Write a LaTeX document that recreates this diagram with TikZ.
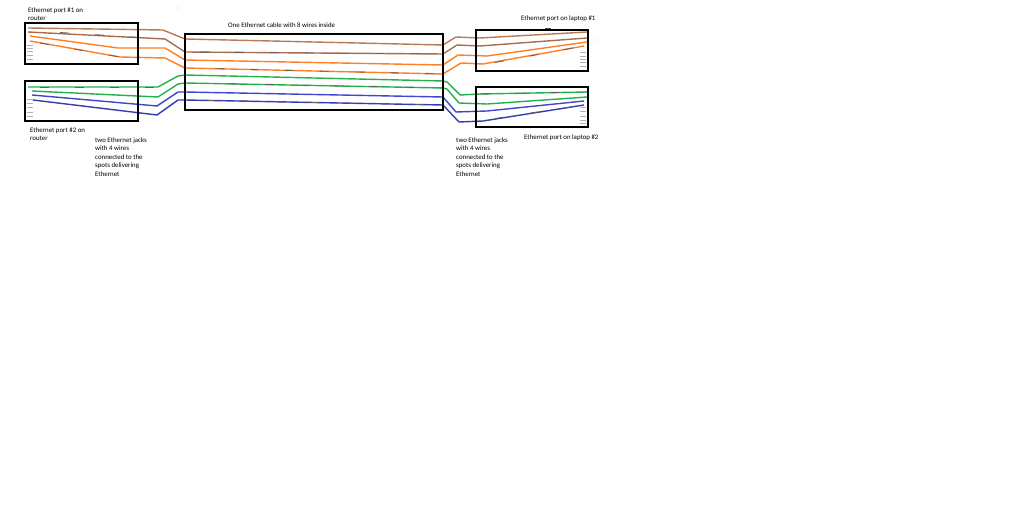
\documentclass[tikz,border=0pt]{standalone}
\usepackage{fontspec}
\setmainfont{Carlito}
\begin{document}
\begin{tikzpicture}[x=1pt,y=-1pt,
  wire/.style={line width=1.4pt, line join=round},
  portbox/.style={draw=black, line width=2.6pt},
  tick/.style={draw=gray!60, line width=0.8pt},
  graydash/.style={draw=gray!75!black, line width=0.8pt, dash pattern=on 9pt off 26pt},
  lbl/.style={anchor=north west, inner sep=0pt, align=left, font=\fontsize{6.85}{8.4}\selectfont, text=black}]
\definecolor{wbrown}{RGB}{185,122,87}
\definecolor{worange}{RGB}{255,127,39}
\definecolor{wgreen}{RGB}{34,177,76}
\definecolor{wblue}{RGB}{63,72,204}
\useasboundingbox[fill=white] (0,0) rectangle (1024,526);

% wires
\draw[wire, wbrown] (28,28) -- (163,30) -- (185,39) -- (443,45) -- (456,37) -- (480,38) -- (587,32);
\draw[wire, wbrown!90!black] (28,32) -- (165,39) -- (185,52) -- (443,54) -- (457,45) -- (480,46) -- (587,38);
\draw[wire, worange] (30,36) -- (118,48) -- (165,48) -- (185,60) -- (443,65) -- (458,55) -- (487,56) -- (587,42);
\draw[wire, worange] (30,41) -- (120,57) -- (165,58) -- (185,68) -- (443,74) -- (461,63) -- (483,64) -- (584,46);
\draw[wire, wgreen] (28,87) -- (158,87) -- (178,76) -- (185,75) -- (443,81) -- (447,82) -- (460,95) -- (480,94) -- (587,92);
\draw[wire, wgreen] (32,91) -- (158,97) -- (178,84) -- (185,83) -- (443,88) -- (447,89) -- (459,103) -- (487,104) -- (587,97);
\draw[wire, wblue] (32,95) -- (157,106) -- (178,92) -- (185,92) -- (443,97) -- (456,112) -- (487,111) -- (584,101);
\draw[wire, wblue!85!black] (33,100) -- (157,115) -- (178,100) -- (185,100) -- (443,105) -- (459,122) -- (483,121) -- (584,105);

% gray dash overlays
\draw[graydash] (200,52.1) -- (443,54);
\draw[graydash] (215,68.7) -- (443,74);
\draw[graydash] (230,83.8) -- (443,88);
\draw[graydash] (205,100.3) -- (443,105);
\draw[graydash] (60,32.5) -- (165,39);
\draw[graydash] (40,43) -- (120,57);
\draw[graydash] (40,87) -- (158,87);
\draw[graydash] (495,62.5) -- (584,46);
\draw[graydash] (495,118.5) -- (584,105);
\draw[graydash] (480,94) -- (587,92);

% pin ticks
\foreach \yy in {45,48.3,51.7,55,59} \draw[tick] (27,\yy) -- (33,\yy);
\foreach \yy in {99,103,107,112,116} \draw[tick] (27,\yy) -- (33,\yy);
\foreach \yy in {52,56,59,62,66} \draw[tick] (580,\yy) -- (586,\yy);
\foreach \yy in {107,111,116,120,123} \draw[tick] (580,\yy) -- (586,\yy);

% boxes
\draw[portbox] (25,23) rectangle (138,64);
\draw[portbox] (25,81) rectangle (138,121);
\draw[portbox] (185,34) rectangle (443,110);
\draw[portbox] (476,30) rectangle (588,71);
\draw[portbox] (476,87) rectangle (588,127);

% small marks
\fill[gray!60] (178,8) circle (0.6pt);
\fill[gray!60] (595,40) circle (0.6pt);
\draw[black!70, line width=1pt] (545,28.6) -- (551,28.6);

% labels
\node[lbl] (t1) at (28,7.5) {Ethernet port \#1 on\\router};
\node[lbl] (t2) at (30,127.5) {Ethernet port \#2 on\\router};
\node[lbl] (t3) at (95,137.5) {two Ethernet jacks\\with 4 wires\\connected to the\\spots delivering\\Ethernet};
\node[lbl] (t4) at (228,23) {One Ethernet cable with 8 wires inside};
\node[lbl] (t5) at (521,15.5) {Ethernet port on laptop \#1};
\node[lbl] (t6) at (524,134.5) {Ethernet port on laptop \#2};
\node[lbl] (t7) at (456,137.5) {two Ethernet jacks\\with 4 wires\\connected to the\\spots delivering\\Ethernet};
\end{tikzpicture}
\end{document}
